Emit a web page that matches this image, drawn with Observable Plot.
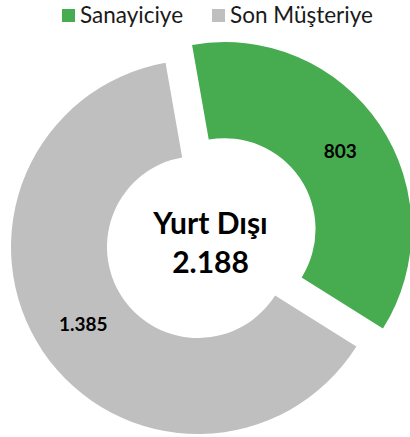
<!DOCTYPE html>
<html><head><meta charset="utf-8">
<script src="https://cdn.jsdelivr.net/npm/d3@7"></script>
<script src="https://cdn.jsdelivr.net/npm/@observablehq/plot@0.6"></script>
<style>
body{margin:0;background:#fff;font-family:Lato,"Open Sans",sans-serif;}
#legend{height:30px;display:flex;align-items:center;padding-left:62px;font-size:22.5px;line-height:1;color:#1a1a1a;}
.item{display:flex;align-items:center;margin-right:29px}
.sw{width:13px;height:13px;margin-right:5px}
</style></head><body>
<div id="legend"></div><div id="chart"></div>
<script>
const categories = ["Sanayiciye", "Son Müşteriye"];
const values = [803, 1385];
const colors = ["#47ab50", "#bfbfbf"];
const centerTitle = "Yurt Dışı";

const fmt = d3.formatLocale({decimal: ",", thousands: ".", grouping: [3], currency: ["", ""]}).format(",d");
const total = d3.sum(values);

// legend
const leg = d3.select("#legend");
categories.forEach((c, i) => {
  const it = leg.append("div").attr("class", "item");
  it.append("div").attr("class", "sw").style("background", colors[i]);
  it.append("span").text(c);
});

const W = 410, H = 407;
const cx = 198, cy = 217, R = 187, r0 = 91, explode = 32;
const deg = Math.PI / 180;
const pie = d3.pie().sort(null).startAngle(-10 * deg).endAngle(350 * deg);
const arcs = pie(values);
const arcGen = d3.arc().innerRadius(r0).outerRadius(R);
const rows = arcs.map((a, i) => {
  const mid = (a.startAngle + a.endAngle) / 2;
  const e = i === 0 ? explode : 0;
  const ox = cx + e * Math.sin(mid), oy = cy - e * Math.cos(mid);
  const [lx, ly] = arcGen.centroid(a);
  return {cat: categories[i], value: values[i], arc: a, color: colors[i], ox, oy, lx: ox + lx, ly: oy + ly};
});

function donut(index, scales) {
  const x = scales.x, y = scales.y;
  const k = (x(1) - x(0));
  const arc = d3.arc().innerRadius(r0 * k).outerRadius(R * k);
  const g = d3.create("svg:g");
  rows.forEach(d => {
    g.append("path")
      .attr("d", arc(d.arc))
      .attr("fill", d.color)
      .attr("transform", `translate(${x(d.ox)},${y(d.oy)})`);
  });
  return g.node();
}

const chart = Plot.plot({
  width: W, height: H,
  margin: 0,
  x: {domain: [0, W], range: [0, W], axis: null},
  y: {domain: [0, H], range: [0, H], axis: null},
  style: {background: "white", overflow: "hidden"},
  marks: [
    donut,
    Plot.text(rows, {x: "lx", y: "ly", text: d => fmt(d.value), fontSize: 19, fontWeight: "bold", fill: "black", fontFamily: "Lato"}),
    Plot.text([`${centerTitle}\n${fmt(total)}`], {x: [cx + 12], y: [cy - 6], text: d => d, fontSize: 30, fontWeight: "bold", fill: "black", lineHeight: 1.3, fontFamily: "Lato"})
  ]
});
document.getElementById("chart").appendChild(chart);
</script>
</body></html>
